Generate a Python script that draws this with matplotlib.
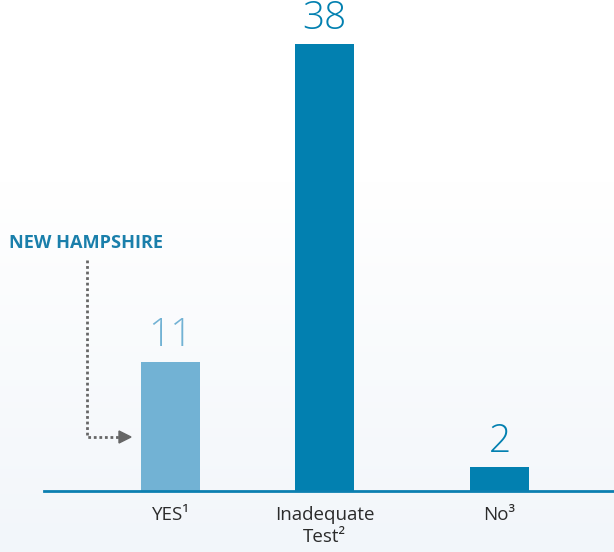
import matplotlib
matplotlib.use("Agg")
import matplotlib.pyplot as plt
import numpy as np
from matplotlib.colors import LinearSegmentedColormap

categories = ["YES¹", "Inadequate\nTest²", "No³"]
values = [11, 38, 2]
positions = [0, 1, 2.136]
bar_colors = ["#72b2d4", "#0280b0", "#0280b0"]
label_colors = ["#72b2d4", "#0280b0", "#0280b0"]
annotation = "NEW HAMPSHIRE"

W, H = 614, 552
fig = plt.figure(figsize=(W / 100, H / 100), dpi=100)

# background gradient
bg = fig.add_axes([0, 0, 1, 1], zorder=0)
grad = np.concatenate([np.zeros(180), np.linspace(0, 1, 372)])[:, None]
cmap = LinearSegmentedColormap.from_list("bg", ["#ffffff", "#f2f6fa"])
bg.imshow(grad, aspect="auto", cmap=cmap, extent=[0, 1, 0, 1], origin="upper")
bg.axis("off")

base_px = 491
ax = fig.add_axes([44 / W, (H - base_px) / H, 1 - 44 / W, base_px / H], zorder=1)
ax.patch.set_alpha(0)
unit = 154.0
ax.set_xlim((44 - 170.5) / unit, (614 - 170.5) / unit)
ax.set_ylim(0, base_px / 11.76)

ax.bar(positions, values, width=59 / unit, color=bar_colors, zorder=2)
for x, v, c in zip(positions, values, label_colors):
    ax.text(x, v + 0.55, str(v), ha="center", va="bottom", color=c,
            fontsize=28, family="Open Sans", fontweight=300)

for s in ["top", "right", "left"]:
    ax.spines[s].set_visible(False)
ax.spines["bottom"].set_color("#0b7fb0")
ax.spines["bottom"].set_linewidth(2)
ax.set_yticks([])
ax.set_xticks(positions)
ax.set_xticklabels(categories, fontsize=13.5, color="#2b2b2b", family="Open Sans",
                   linespacing=1.25, va="top")
ax.tick_params(axis="x", length=0, pad=11)

# annotation
fig.text(9 / W, 1 - 243 / H, annotation, fontsize=13.1, fontweight="bold",
         color="#1a7fab", family="Open Sans", va="center", ha="left")
ax_f = fig.add_axes([0, 0, 1, 1], zorder=3)
ax_f.set_xlim(0, W)
ax_f.set_ylim(H, 0)
ax_f.axis("off")
ax_f.plot([87, 87, 120], [260, 437, 437], color="#666666", lw=2,
          linestyle=(0, (1, 1)))
ax_f.fill([119, 131, 119], [431, 437, 443], color="#666666")

fig.savefig("out.png", dpi=100)
